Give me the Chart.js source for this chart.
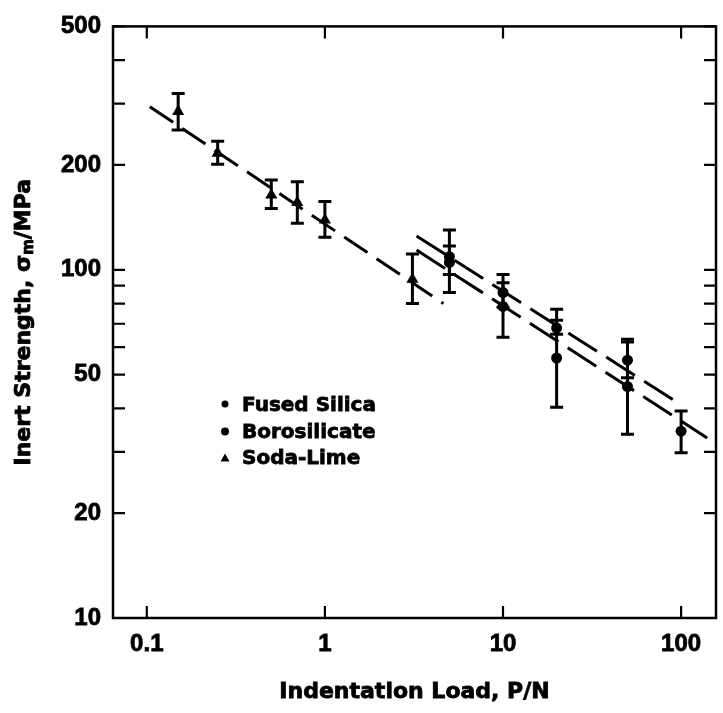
<!DOCTYPE html>
<html>
<head>
<meta charset="utf-8">
<script src="https://cdn.jsdelivr.net/npm/chart.js@4.4.0/dist/chart.umd.min.js"></script>
<style>
  html, body { margin: 0; padding: 0; background: #fff; }
</style>
</head>
<body>
<canvas id="canvas" width="723" height="713"></canvas>
<script>
// tick values / labels
var xTicks = [0.1, 1, 10, 100];
var yTicks = [10, 20, 30, 40, 50, 60, 70, 80, 90, 100, 200, 300, 400, 500];
var yLabels = [10, 20, 50, 100, 200, 500];

// Soda-Lime (triangles)
var sodaLoad = [0.15, 0.25, 0.5, 0.7, 1.0, 3.1];
var sodaStr = [285, 216, 164, 156, 139, 94];
var sodaHi = [321, 234, 181, 179, 157, 111];
var sodaLo = [252, 201, 150, 136, 124, 80];

// Fused Silica
var fusedLoad = [5, 10, 20, 50];
var fusedStr = [109, 86, 68, 55];
var fusedHi = [117, 97, 71.6, 62];
var fusedLo = [97, 78, 65.3, 49];

// Borosilicate
var boroLoad = [5, 10, 20, 50, 100];
var boroStr = [105, 78.5, 55.8, 46.2, 34.4];
var boroHi = [130, 91.8, 77, 63.2, 39.3];
var boroLo = [86, 64, 40.3, 33.7, 29.8];

// fitted lines (end points)
var sodaFitX = [0.104, 4.63];
var sodaFitY = [294, 80];
var fusedFitX = [3.27, 91];
var fusedFitY = [125, 42.2];
var boroFitX = [3.27, 140];
var boroFitY = [114, 32.9];

function pts(xs, ys) {
    return xs.map(function (x, i) { return {x: x, y: ys[i]}; });
}

var errSets = [
    [sodaLoad, sodaLo, sodaHi],
    [fusedLoad, fusedLo, fusedHi],
    [boroLoad, boroLo, boroHi]
];

var legendRows = [
    {label: 'Fused Silica', style: 'square'},
    {label: 'Borosilicate', style: 'circle'},
    {label: 'Soda-Lime', style: 'triangle'}
];

// heavy text: fill + thin stroke, the scan uses a black grotesque
function heavyText(ctx, txt, x, y) {
    ctx.fillText(txt, x, y);
    ctx.strokeText(txt, x, y);
}

var extras = {
    id: 'extras',
    afterDatasetsDraw: function (chart) {
        var ctx = chart.ctx;
        var sx = chart.scales.x, sy = chart.scales.y;
        var a = chart.chartArea;
        ctx.save();
        ctx.strokeStyle = '#000';
        ctx.fillStyle = '#000';
        ctx.lineCap = 'butt';

        // error bars
        ctx.lineWidth = 3;
        errSets.forEach(function (s) {
            for (var i = 0; i < s[0].length; i++) {
                var px = sx.getPixelForValue(s[0][i]);
                var top = sy.getPixelForValue(s[2][i]);
                var bot = sy.getPixelForValue(s[1][i]);
                ctx.beginPath();
                ctx.moveTo(px, top); ctx.lineTo(px, bot);
                ctx.moveTo(px - 6.5, top); ctx.lineTo(px + 6.5, top);
                ctx.moveTo(px - 6.5, bot); ctx.lineTo(px + 6.5, bot);
                ctx.stroke();
            }
        });

        // frame
        ctx.lineWidth = 2.5;
        ctx.strokeRect(a.left, a.top, a.right - a.left, a.bottom - a.top);

        // inward ticks on all four sides
        ctx.lineWidth = 2.2;
        ctx.beginPath();
        xTicks.forEach(function (v) {
            var px = sx.getPixelForValue(v);
            ctx.moveTo(px, a.bottom); ctx.lineTo(px, a.bottom - 12);
            ctx.moveTo(px, a.top); ctx.lineTo(px, a.top + 12);
        });
        yTicks.forEach(function (v) {
            var py = sy.getPixelForValue(v);
            ctx.moveTo(a.left, py); ctx.lineTo(a.left + 12, py);
            ctx.moveTo(a.right, py); ctx.lineTo(a.right - 12, py);
        });
        ctx.stroke();

        // legend inside the plot
        ctx.font = 'bold 20px "DejaVu Sans"';
        ctx.textBaseline = 'middle';
        ctx.textAlign = 'left';
        ctx.lineWidth = 0.8;
        legendRows.forEach(function (r, i) {
            var y = 405 + i * 26.5;
            var mx = 225;
            ctx.beginPath();
            if (r.style === 'triangle') {
                ctx.moveTo(mx, y - 4.5); ctx.lineTo(mx + 4.5, y + 3.5); ctx.lineTo(mx - 4.5, y + 3.5);
                ctx.closePath();
            } else if (r.style === 'square') {
                ctx.arc(mx, y - 1, 3.5, 0, Math.PI * 2);
            } else {
                ctx.arc(mx, y, 4, 0, Math.PI * 2);
            }
            ctx.fill();
            heavyText(ctx, r.label, 242, y + 1);
        });

        // y axis title with subscript
        var big = 'bold 22px "DejaVu Sans"', small = 'bold 15px "DejaVu Sans"';
        var p1 = 'Inert Strength, \u03c3', p2 = 'm', p3 = '/MPa';
        ctx.font = big; var w1 = ctx.measureText(p1).width, w3 = ctx.measureText(p3).width;
        ctx.font = small; var w2 = ctx.measureText(p2).width;
        var total = w1 + w2 + w3;
        ctx.translate(24, (a.top + a.bottom) / 2);
        ctx.rotate(-Math.PI / 2);
        ctx.textBaseline = 'middle';
        var x0 = -total / 2;
        ctx.font = big; heavyText(ctx, p1, x0, 0);
        ctx.font = small; heavyText(ctx, p2, x0 + w1, 5);
        ctx.font = big; heavyText(ctx, p3, x0 + w1 + w2, 0);
        ctx.restore();

        // x axis title
        ctx.save();
        ctx.fillStyle = '#000';
        ctx.strokeStyle = '#000';
        ctx.lineWidth = 0.8;
        ctx.font = big;
        ctx.textAlign = 'center';
        ctx.textBaseline = 'middle';
        heavyText(ctx, 'Indentation Load, P/N', (a.left + a.right) / 2, 692);
        ctx.restore();
    }
};

var tickFont = {family: '"Liberation Sans", Arial, sans-serif', size: 24, weight: 'bold'};

var ctx = document.getElementById('canvas').getContext('2d');
var chart = new Chart(ctx, {
    type: 'scatter',
    data: {
        datasets: [{
            label: 'Fused Silica',
            data: pts(fusedLoad, fusedStr),
            pointStyle: 'circle', pointRadius: 5.5,
            backgroundColor: '#000', borderColor: '#000', borderWidth: 0
        }, {
            label: 'Borosilicate',
            data: pts(boroLoad, boroStr),
            pointStyle: 'circle', pointRadius: 5.5,
            backgroundColor: '#000', borderColor: '#000', borderWidth: 0
        }, {
            label: 'Soda-Lime',
            data: pts(sodaLoad, sodaStr),
            pointStyle: 'triangle', pointRadius: 7,
            backgroundColor: '#000', borderColor: '#000', borderWidth: 0
        }, {
            type: 'line', label: 'fit1',
            data: pts(sodaFitX, sodaFitY),
            borderColor: '#000', borderWidth: 3, borderDash: [28, 11],
            pointRadius: 0, fill: false
        }, {
            type: 'line', label: 'fit2',
            data: pts(fusedFitX, fusedFitY),
            borderColor: '#000', borderWidth: 3, borderDash: [34, 11],
            pointRadius: 0, fill: false
        }, {
            type: 'line', label: 'fit3',
            data: pts(boroFitX, boroFitY),
            borderColor: '#000', borderWidth: 3, borderDash: [34, 11],
            pointRadius: 0, fill: false
        }]
    },
    options: {
        responsive: false,
        animation: false,
        devicePixelRatio: 1,
        layout: {padding: {top: 18, right: 4, left: 0, bottom: 0}},
        plugins: {legend: {display: false}, tooltip: {enabled: false}},
        scales: {
            x: {
                type: 'logarithmic',
                min: 0.0646, max: 157,
                afterBuildTicks: function (scale) {
                    scale.ticks = xTicks.map(function (v) { return {value: v}; });
                },
                afterFit: function (scale) { scale.height = 95; },
                ticks: {
                    font: tickFont, color: '#000', padding: 12,
                    autoSkip: false, maxRotation: 0,
                    textStrokeColor: '#000', textStrokeWidth: 0.8,
                    callback: function (v) { return String(v); }
                },
                grid: {display: false, drawTicks: false},
                border: {display: false},
                title: {display: false}
            },
            y: {
                type: 'logarithmic',
                min: 10, max: 500,
                afterBuildTicks: function (scale) {
                    scale.ticks = yTicks.map(function (v) { return {value: v}; });
                },
                afterFit: function (scale) { scale.width = 113; },
                ticks: {
                    font: tickFont, color: '#000', padding: 12,
                    autoSkip: false,
                    textStrokeColor: '#000', textStrokeWidth: 0.8,
                    callback: function (v) { return yLabels.indexOf(v) >= 0 ? String(v) : ''; }
                },
                grid: {display: false, drawTicks: false},
                border: {display: false}
            }
        }
    },
    plugins: [extras]
});
</script>
</body>
</html>
